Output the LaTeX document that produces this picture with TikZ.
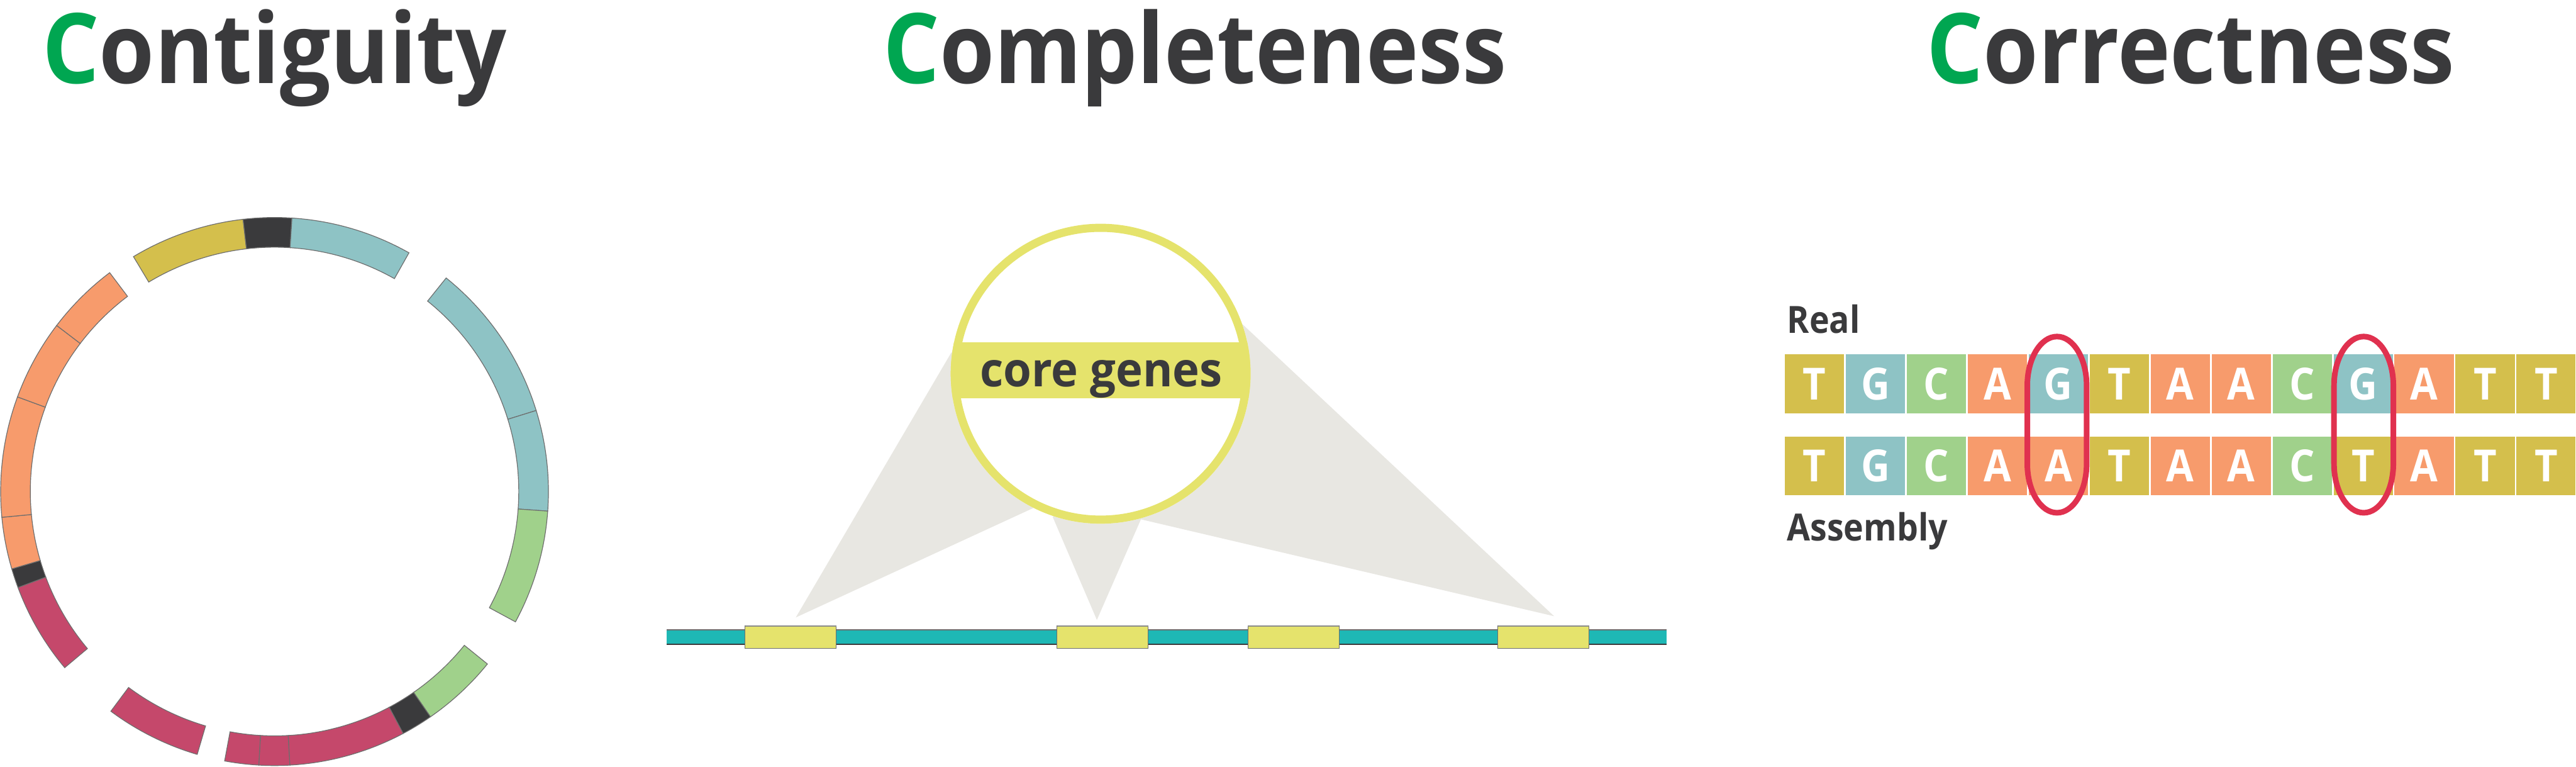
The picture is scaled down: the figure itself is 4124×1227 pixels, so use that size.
\documentclass[tikz,border=0pt]{standalone}
\usepackage{fontspec}
\setmainfont{Open Sans}
\definecolor{ink}{RGB}{58,58,60}
\definecolor{cGreenC}{RGB}{0,166,81}
\definecolor{cOlive}{RGB}{212,191,76}
\definecolor{cTeal}{RGB}{142,195,197}
\definecolor{cGreen}{RGB}{160,209,139}
\definecolor{cOrange}{RGB}{247,155,108}
\definecolor{cCrimson}{RGB}{197,72,107}
\definecolor{cDark}{RGB}{58,58,60}
\definecolor{cYel}{RGB}{229,227,108}
\definecolor{cShade}{RGB}{232,231,226}
\definecolor{cLine}{RGB}{30,184,181}
\definecolor{cRed}{RGB}{224,49,79}
\definecolor{cEdge}{RGB}{110,110,110}
\begin{document}
\begin{tikzpicture}[x=0.1pt,y=-0.1pt,
  title/.style={anchor=base, inner sep=0, text=ink, font=\fontsize{15.6}{16}\selectfont\bfseries},
  seg/.style={draw=cEdge, line width=0.12pt},
  lab/.style={anchor=base west, inner sep=0, text=ink, font=\fontsize{6}{7}\selectfont\bfseries},
  cell/.style={inner sep=0, minimum width=9.48pt, minimum height=9.44pt, text=white, font=\fontsize{7.1}{8}\selectfont\bfseries},
  ring/.style={draw=cRed, line width=0.9pt}]
\path[use as bounding box] (0,0) rectangle (4124,1227);

% titles
\node[title] (t1) at (439.5,133) {\scalebox{0.92}[1]{\textcolor{cGreenC}{C}ontiguity}};
\node[title] (t2) at (1913,133) {\scalebox{0.91}[1]{\textcolor{cGreenC}{C}ompleteness}};
\node[title] (t3) at (3507,133) {\scalebox{0.915}[1]{\textcolor{cGreenC}{C}orrectness}};

% contiguity ring
\begin{scope}[shift={(439.5,786.5)}, y=0.1pt]
\foreach \a/\b/\c in {121/96.6/cOlive, 96.6/86.35/cDark, 86.35/60.6/cTeal,
  51.2/17.2/cTeal, 17.2/-4.1/cTeal, -4.1/-28.4/cGreen,
  -39/-55.3/cGreen, -55.3/-62/cDark, -62/-86.8/cCrimson, -86.8/-93.3/cCrimson,
  -93.3/-100.5/cCrimson, -106.4/-126.7/cCrimson, -140/-159.5/cCrimson,
  -159.5/-163.6/cDark, -163.6/-174.6/cOrange, -174.6/-200.2/cOrange,
  -200.2/-217.3/cOrange, -217.3/-233/cOrange}
  \draw[seg, fill=\c] (\a:438.5) arc[start angle=\a, end angle=\b, radius=438.5]
    -- (\b:391) arc[start angle=\b, end angle=\a, radius=391] -- cycle;
\end{scope}

% completeness
\fill[cShade] (1274,988) -- (1523,564) -- (1762,598) -- (1654,813) -- cycle;
\fill[cShade] (1756,992) -- (1685.5,827.7) -- (1762,598) -- (1826.5,831) -- cycle;
\fill[cShade] (2488,986) -- (1985,515) -- (1762,598) -- (1826.5,831) -- cycle;
\fill[white] (1762,598) circle[radius=240];
\begin{scope}
\clip (1762,598) circle[radius=240];
\fill[cYel] (1500,548) rectangle (2030,637);
\end{scope}
\draw[cYel, line width=1.3pt] (1762,598) circle[radius=233.5];
\node[inner sep=0, anchor=base, text=ink, font=\fontsize{7.6}{8}\selectfont\bfseries] (core) at (1763,619) {\scalebox{0.96}[1]{core genes}};

\fill[cLine] (1067,1008) rectangle (2668,1031);
\draw[cEdge, line width=0.2pt] (1067,1008) -- (2668,1008);
\draw[ink, line width=0.2pt] (1067,1031) -- (2668,1031);
\foreach \x in {1193,1692,1998,2398} {
  \fill[cYel] (\x,1001) rectangle (\x+146,1037.5);
  \draw[cEdge, line width=0.1pt] (\x,1001) rectangle (\x+146,1037.5);
  \draw[cEdge!80, line width=0.25pt] (\x,1002) -- (\x+146,1002);
}

% correctness
\node[lab] (real) at (2859,533) {\scalebox{0.9}[1]{Real}};
\node[lab] (asm) at (2859,865) {\scalebox{0.9}[1]{Assembly}};
\foreach \l/\c [count=\i from 0] in {T/cOlive,G/cTeal,C/cGreen,A/cOrange,G/cTeal,T/cOlive,A/cOrange,A/cOrange,C/cGreen,G/cTeal,A/cOrange,T/cOlive,T/cOlive}
  \node[cell, fill=\c] (ra\i) at (2857.4+\i*97.6+47.4,614.5) {\scalebox{0.9}[1]{\l}};
\foreach \l/\c [count=\i from 0] in {T/cOlive,G/cTeal,C/cGreen,A/cOrange,A/cOrange,T/cOlive,A/cOrange,A/cOrange,C/cGreen,T/cOlive,A/cOrange,T/cOlive,T/cOlive}
  \node[cell, fill=\c] (rb\i) at (2857.4+\i*97.6+47.4,745.5) {\scalebox{0.9}[1]{\l}};
\foreach \cx in {3293,3784}
  \draw[ring] (\cx-47.5,617) -- (\cx-47.5,742)
    .. controls (\cx-47.5,785.3) and (\cx-26.2,820.5) .. (\cx,820.5)
    .. controls (\cx+26.2,820.5) and (\cx+47.5,785.3) .. (\cx+47.5,742)
    -- (\cx+47.5,617)
    .. controls (\cx+47.5,573.7) and (\cx+26.2,538.5) .. (\cx,538.5)
    .. controls (\cx-26.2,538.5) and (\cx-47.5,573.7) .. cycle;
\end{tikzpicture}
\end{document}
